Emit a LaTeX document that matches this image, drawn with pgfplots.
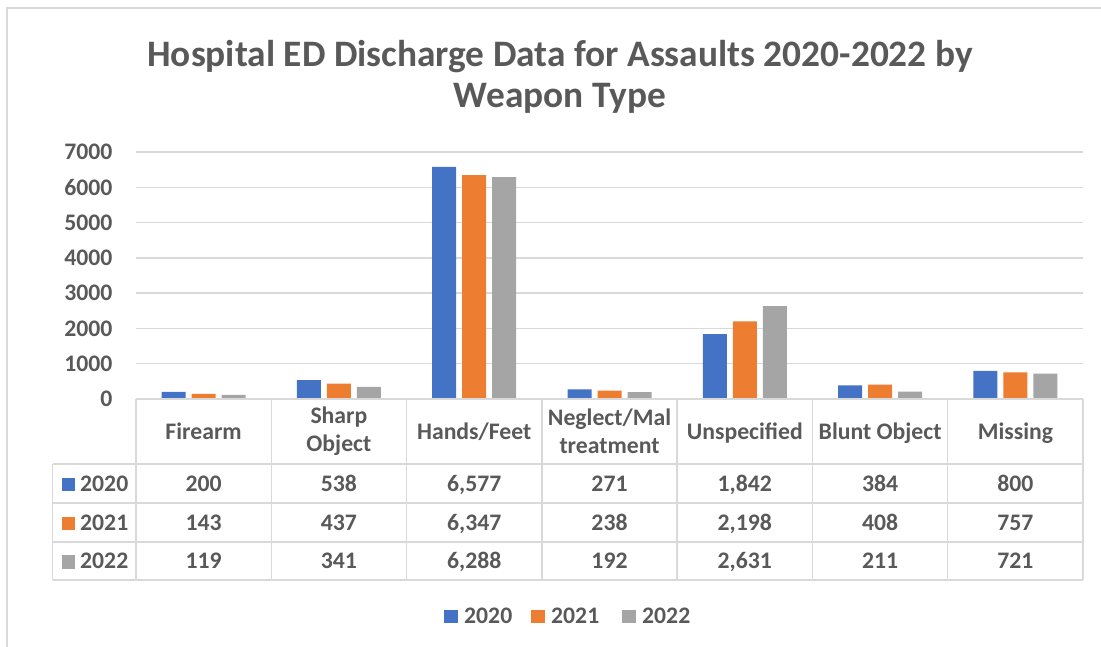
\documentclass[border=0pt]{standalone}
\usepackage{pgfplots}
\pgfplotsset{compat=1.18}
\usepackage{fontspec}
\setmainfont{Carlito}
\definecolor{c20}{HTML}{4472C4}
\definecolor{c21}{HTML}{ED7D31}
\definecolor{c22}{HTML}{A5A5A5}
\definecolor{txt}{HTML}{595959}
\definecolor{gridc}{HTML}{D9D9D9}
\newcommand{\tf}{\bfseries\fontsize{23.8}{28}\selectfont}
\begin{document}
\begin{tikzpicture}[x=1bp,y=1bp]
\path[use as bounding box] (0,0) rectangle (1101,-647);
\draw[gridc, line width=1.5bp] (7,-647) -- (7,-8) -- (1101,-8);
\node[text=txt, font=\bfseries\fontsize{37.5}{41}\selectfont, align=center] at (560,-77) {Hospital ED Discharge Data for Assaults 2020-2022 by\\Weapon Type};
\begin{axis}[
  at={(136bp,-399bp)}, anchor=south west,
  scale only axis, width=947bp, height=247bp,
  xmin=-0.5, xmax=6.5, ymin=0, ymax=7000,
  ytick={0,1000,...,7000},
  xtick=\empty,
  axis line style={draw=none},
  tick style={draw=none},
  major tick length=0pt,
  ymajorgrids, grid style={gridc, line width=1.3bp},
  ybar=6bp, bar width=24bp,
  yticklabel style={font=\tf, text=txt, xshift=-20bp},
  /pgf/number format/assume math mode=true,
  /pgf/number format/1000 sep={},
  clip=false,
]
\addplot[fill=c20, draw=none] coordinates {(0,200) (1,538) (2,6577) (3,271) (4,1842) (5,384) (6,800)};
\addplot[fill=c21, draw=none] coordinates {(0,143) (1,437) (2,6347) (3,238) (4,2198) (5,408) (6,757)};
\addplot[fill=c22, draw=none] coordinates {(0,119) (1,341) (2,6288) (3,192) (4,2631) (5,211) (6,721)};
\end{axis}
% data table
\begin{scope}[gridc, line width=1.5bp]
\draw (136,-399) -- (1083,-399);
\draw (52.5,-464) -- (1083,-464);
\draw (52.5,-503) -- (1083,-503);
\draw (52.5,-542) -- (1083,-542);
\draw (52.5,-580) -- (1083,-580);
\draw (52.5,-464) -- (52.5,-580);
\foreach \x in {136,271.3,406.6,541.9,677.1,812.4,947.7,1083} \draw (\x,-399) -- (\x,-580);
\end{scope}
\begin{scope}[every node/.style={text=txt, font=\tf, align=center, inner sep=0pt}]
\foreach \lab [count=\i from 0] in {Firearm,Hands/Feet,Unspecified,Blunt Object,Missing}
  \node[anchor=base] at ({203.6+135.3*(\i==0?0:(\i==1?2:(\i==2?4:(\i==3?5:6))))},-439.5) {\lab};
\node at (203.6+135.3,-431.5) {Sharp\\Object};
\node at (203.6+135.3*3,-431.5) {Neglect/Mal\\treatment};
\foreach \v [count=\i from 0] in {200,538,{6,577},271,{1,842},384,800}
  \node[anchor=base] at (203.6+135.3*\i,-491) {\v};
\foreach \v [count=\i from 0] in {143,437,{6,347},238,{2,198},408,757}
  \node[anchor=base] at (203.6+135.3*\i,-530) {\v};
\foreach \v [count=\i from 0] in {119,341,{6,288},192,{2,631},211,721}
  \node[anchor=base] at (203.6+135.3*\i,-568.5) {\v};
\foreach \c/\y/\t in {c20/-491/2020,c21/-530/2021,c22/-568.5/2022} {
  \fill[\c] (61.5,\y) rectangle (75,\y+13.5);
  \node[anchor=base west] at (80,\y) {\t};
}
\foreach \c/\x/\t in {c20/444/2020,c21/531/2021,c22/622/2022} {
  \fill[\c] (\x,-623) rectangle (\x+13.5,-609.5);
  \node[anchor=base west] at (\x+20,-623.5) {\t};
}
\end{scope}
\end{tikzpicture}
\end{document}
